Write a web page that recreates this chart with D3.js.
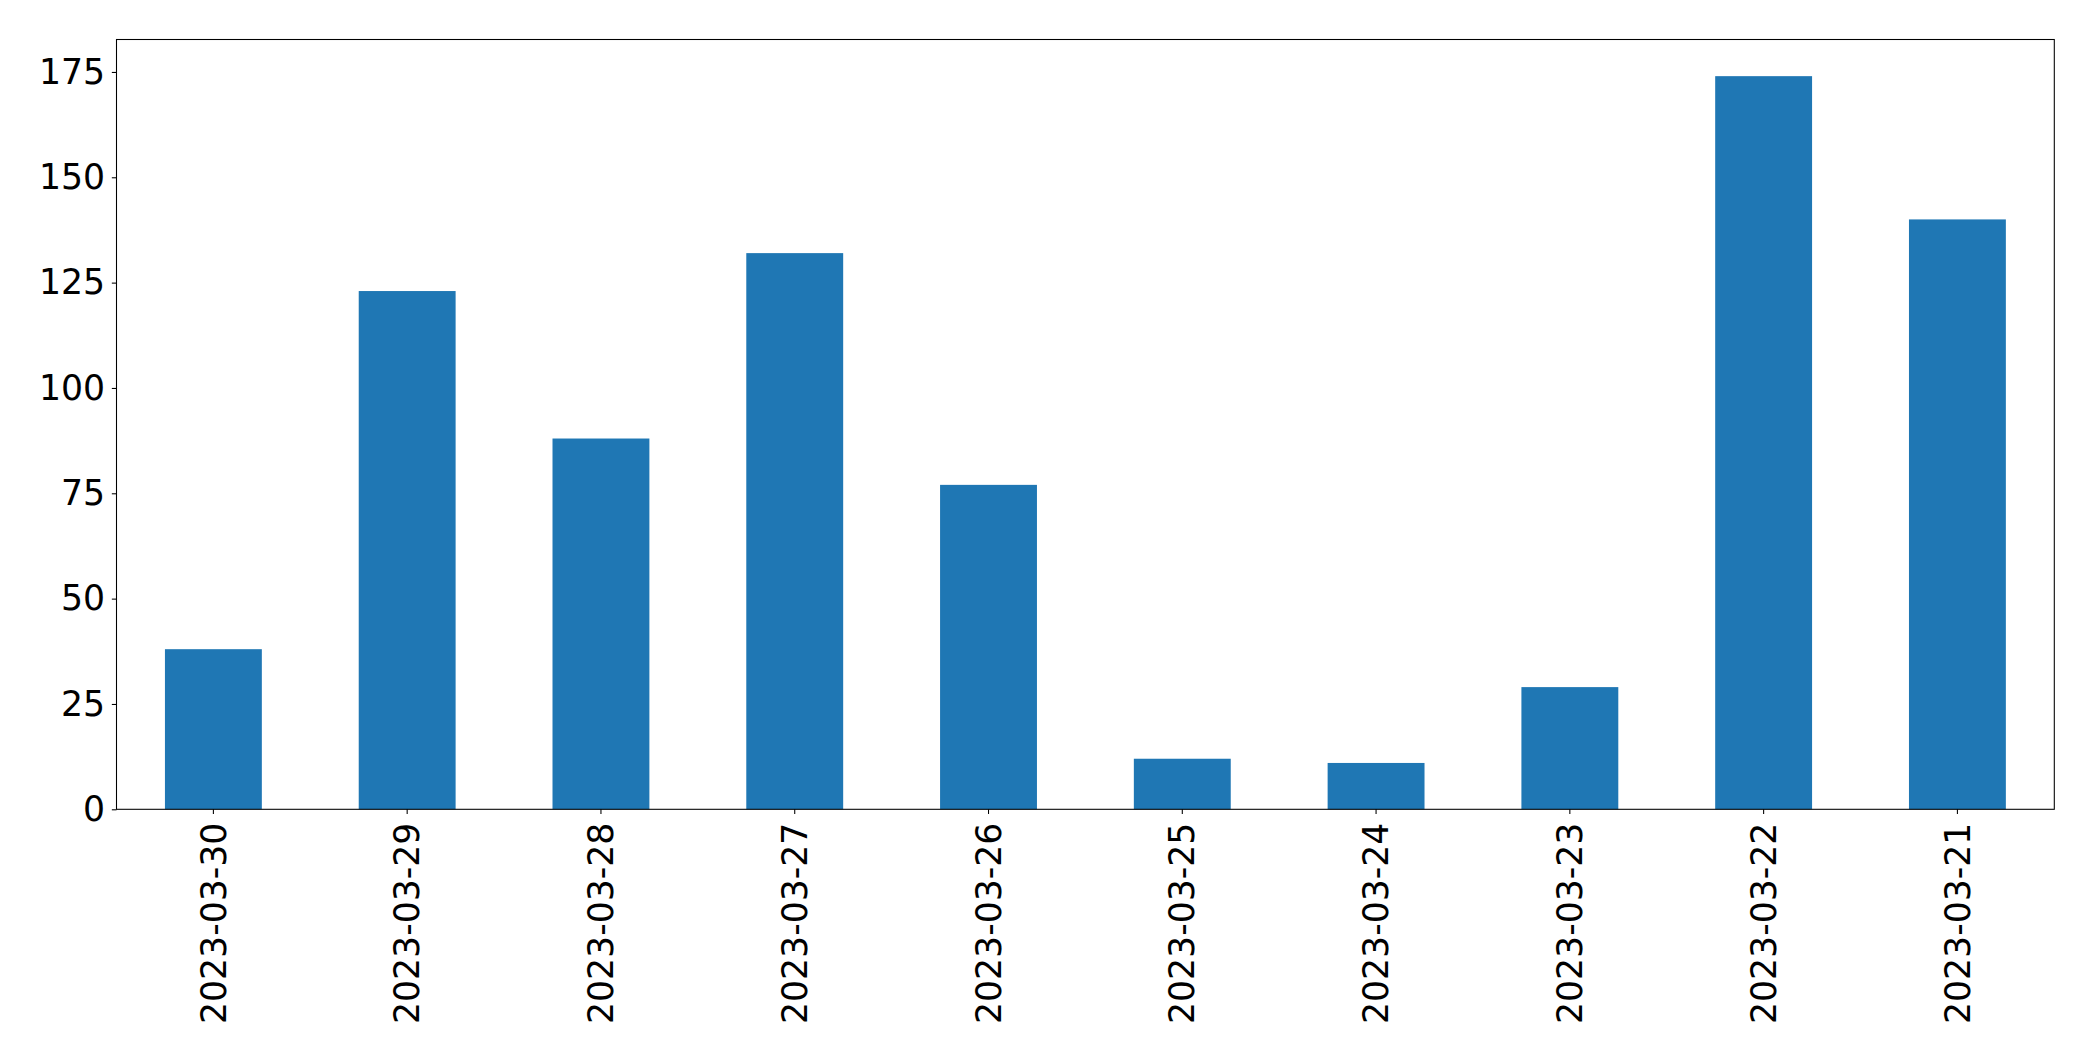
<!DOCTYPE html>
<html>
<head>
<meta charset="utf-8">
<script src="https://cdn.jsdelivr.net/npm/d3@7"></script>
<style>
  html, body { margin: 0; padding: 0; background: #fff; }
  svg { display: block; }
  text { font-family: "DejaVu Sans", sans-serif; }
</style>
</head>
<body>
<svg id="chart" width="2093" height="1061"></svg>
<script>
const categories = ["2023-03-30", "2023-03-29", "2023-03-28", "2023-03-27", "2023-03-26",
                    "2023-03-25", "2023-03-24", "2023-03-23", "2023-03-22", "2023-03-21"];
const values = [38, 123, 88, 132, 77, 12, 11, 29, 174, 140];
const yTicks = [0, 25, 50, 75, 100, 125, 150, 175];

const W = 2093, H = 1061;
const margin = { left: 116.5, top: 39.5, right: W - 2054.3, bottom: H - 809.3 };
const iw = W - margin.left - margin.right;
const ih = H - margin.top - margin.bottom;
const fontPx = 34.67;
const tickLen = 4.67, pad = 4.67;

const svg = d3.select("#chart");
const g = svg.append("g").attr("transform", `translate(${margin.left},${margin.top})`);

const x = d3.scaleBand().domain(categories).range([0, iw]).paddingInner(0.5).paddingOuter(0.25);
const yMax = d3.max(values) * 1.05;
const y = d3.scaleLinear().domain([0, yMax]).range([ih, 0]);

g.selectAll("rect.bar").data(values).join("rect")
  .attr("class", "bar")
  .attr("x", (d, i) => x(categories[i]))
  .attr("width", x.bandwidth())
  .attr("y", d => y(d))
  .attr("height", d => y(0) - y(d))
  .attr("fill", "#1f77b4");

// Y axis
const yAxis = g.append("g").call(
  d3.axisLeft(y).tickValues(yTicks).tickSize(tickLen).tickPadding(pad + 2)
);
yAxis.select(".domain").remove();
yAxis.selectAll(".tick line").attr("stroke", "#000").attr("stroke-width", 1.07);
yAxis.selectAll(".tick text")
  .attr("font-size", fontPx).attr("font-family", "DejaVu Sans").attr("fill", "#000");

// X axis
const xAxis = g.append("g").attr("transform", `translate(0,${ih})`).call(
  d3.axisBottom(x).tickSize(tickLen).tickPadding(0)
);
xAxis.select(".domain").remove();
xAxis.selectAll(".tick line").attr("stroke", "#000").attr("stroke-width", 1.07);
xAxis.selectAll(".tick text")
  .attr("font-size", fontPx).attr("font-family", "DejaVu Sans").attr("fill", "#000")
  .attr("text-anchor", "end")
  .attr("x", 0).attr("y", 0).attr("dy", "0.35em")
  .attr("transform", `translate(0,${tickLen + pad + 4}) rotate(-90)`);

// Frame (spines)
g.append("rect")
  .attr("x", 0).attr("y", 0).attr("width", iw).attr("height", ih)
  .attr("fill", "none").attr("stroke", "#000").attr("stroke-width", 1.07);
</script>
</body>
</html>
